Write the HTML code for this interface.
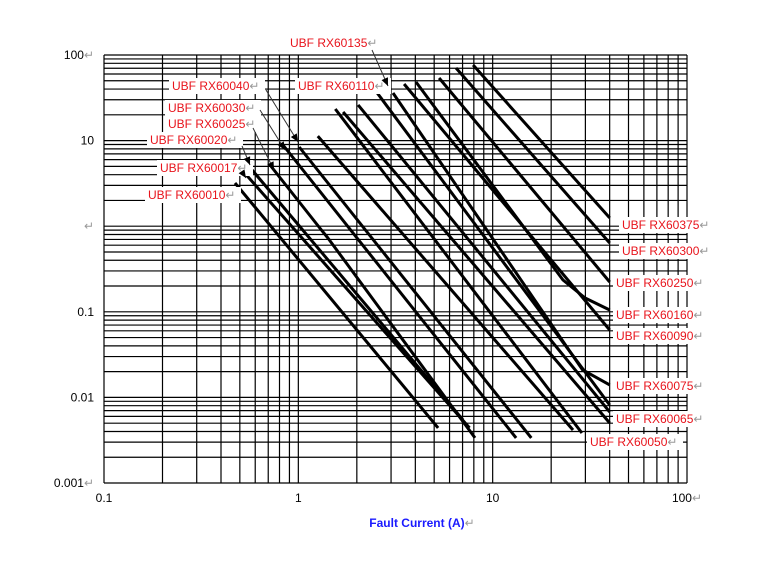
<!DOCTYPE html>
<html><head><meta charset="utf-8"><style>
html,body{margin:0;padding:0;background:#fff;}
svg{display:block;font-family:"Liberation Sans",sans-serif;}
</style></head><body>
<svg id="chart" width="781" height="563" viewBox="0 0 781 563" xmlns="http://www.w3.org/2000/svg">
<g id="grid"></g>
<g id="curves"></g>
<g id="labels"></g>
<g id="axes"></g>
</svg>
<script>
const curveNames = ["RX60375","RX60300","RX60250","RX60160","RX60090","RX60075","RX60065a","RX60065b","RX60050a","RX60050b","RX60040","RX60030","RX60025","RX60020","RX60017","RX60017b","RX60010"];
const curveCurrents = [
 [7.93,40],[6.48,40],[5.30,40],[4.03,23.0,29.9,40],[3.50,40],[3.07,29,40],[2.48,40],[2.03,40],[1.70,40],
 [1.55,28.8],[1.26,25.9],[1.01,15.8],[0.834,13.2],[0.715,1.29,1.42,8.11],[0.578,7.04],[0.513,7.6],[0.472,5.24]
];
const curveTimes = [
 [76.4,1.25],[70.5,0.637],[53.8,0.223],[48.4,0.235,0.145,0.105],[45.8,0.0613],[36.0,0.021,0.0140],[39.0,0.00815],[26.1,0.00675],[21.6,0.00502],
 [23.4,0.00384],[11.3,0.00416],[8.42,0.00336],[8.89,0.00336],[5.19,0.953,0.728,0.00336],[4.54,0.00545],[4.54,0.0044],[3.20,0.00440]
];
const xTicks = [0.1,1,10,100];
const xTickLabels = ["0.1","1","10","100"];
const yTicks = [100,10,1,0.1,0.01,0.001];
const yTickLabels = ["100","10","","0.1","0.01","0.001"];

const X0=104,X1=687,Y0=55,Y1=483;
function xs(v){return X0+(Math.log10(v)+1)/3*(X1-X0);}
function ys(v){return Y0+(2-Math.log10(v))/5*(Y1-Y0);}
const NS="http://www.w3.org/2000/svg";
function mk(tag,attrs,parent){const e=document.createElementNS(NS,tag);for(const k in attrs)e.setAttribute(k,attrs[k]);parent.appendChild(e);return e;}

const grid=document.getElementById('grid');
for(let d=-1;d<2;d++){for(let m=1;m<=9;m++){const v=m*Math.pow(10,d);const x=xs(v);
 const l=mk('line',{x1:x,x2:x,y1:Y0,y2:Y1,stroke:'#000','stroke-width':1.2},grid);
 
 }}
{const l=mk('line',{x1:X1,x2:X1,y1:Y0,y2:Y1,stroke:'#000','stroke-width':1.2},grid);
 
 }
for(let d=-3;d<2;d++){for(let m=1;m<=9;m++){const v=m*Math.pow(10,d);const y=ys(v);
 const l=mk('line',{x1:X0,x2:X1,y1:y,y2:y,stroke:'#000','stroke-width':1.2},grid);
 
 }}
{const l=mk('line',{x1:X0,x2:X1,y1:Y0,y2:Y0,stroke:'#000','stroke-width':1.2},grid);
 
 }

const cg=document.getElementById('curves');
curveNames.forEach((n,i)=>{
 const pts=curveCurrents[i].map((c,j)=>xs(c).toFixed(1)+','+ys(curveTimes[i][j]).toFixed(1)).join(' ');
 const p=mk('polyline',{points:pts,fill:'none',stroke:'#000','stroke-width':3,'stroke-linejoin':'round'},cg);
 
 
});

const lg=document.getElementById('labels');
const labelDefs=[
 ["UBF RX60135",290,47],["UBF RX60040",172,90],["UBF RX60110",298,90],["UBF RX60030",168,112],
 ["UBF RX60025",168,128],["UBF RX60020",150,144],["UBF RX60017",160,172],["UBF RX60010",148,199],
 ["UBF RX60375",622,229],["UBF RX60300",622,255],["UBF RX60250",616,287],["UBF RX60160",616,319],
 ["UBF RX60090",616,340],["UBF RX60075",616,390],["UBF RX60065",616,423],["UBF RX60050",590,446]
];
labelDefs.forEach(d=>{
 const r=mk('rect',{x:d[1]-3,y:d[2]-12,width:96,height:16,fill:'#fff'},lg);
 
 
 const t=mk('text',{x:d[1],y:d[2],'font-size':12,fill:'#e8141c'},lg);
 
 
 t.textContent=d[0];
 const s=mk('tspan',{fill:'#999'},t);s.textContent='↵';
});
const arrows=[[372,50,388,86],[266,90,298,142],[260,110,285,150],[253,128,274,170],[242,146,250,165],[242,172,246,178]];
arrows.forEach(a=>{
 const l=mk('line',{x1:a[0],y1:a[1],x2:a[2],y2:a[3],stroke:'#333','stroke-width':1},lg);
 
 
 const ang=Math.atan2(a[3]-a[1],a[2]-a[0]);const L=8,W=3.5;
 const bx=a[2]-L*Math.cos(ang),by=a[3]-L*Math.sin(ang);
 const pts=[a[2]+','+a[3],(bx+W*Math.sin(ang))+','+(by-W*Math.cos(ang)),(bx-W*Math.sin(ang))+','+(by+W*Math.cos(ang))].join(' ');
 const h=mk('polygon',{points:pts,fill:'#000'},lg);
 
 
});

const ax=document.getElementById('axes');
xTicks.forEach((v,i)=>{
 const t=mk('text',{x:xs(v),y:502,'font-size':12,'text-anchor':'middle',fill:'#000'},ax);
 
 
 t.textContent=xTickLabels[i];
 if(i==3){const s=mk('tspan',{fill:'#999'},t);s.textContent='↵';}
});
yTicks.forEach((v,i)=>{
 const t=mk('text',{x:94,y:ys(v)+4,'font-size':12,'text-anchor':'end',fill:'#000'},ax);
 
 
 t.textContent=yTickLabels[i];
 if(i==0||i==2||i==5){const s=mk('tspan',{fill:'#999'},t);s.textContent='↵';}
});
const xt=mk('text',{x:422,y:527,'font-size':12,'font-weight':'bold','text-anchor':'middle',fill:'#1a1aff'},ax);


xt.textContent='Fault Current (A)';
{const s=mk('tspan',{fill:'#999','font-weight':'normal'},xt);s.textContent='↵';}
</script>
</body></html>
